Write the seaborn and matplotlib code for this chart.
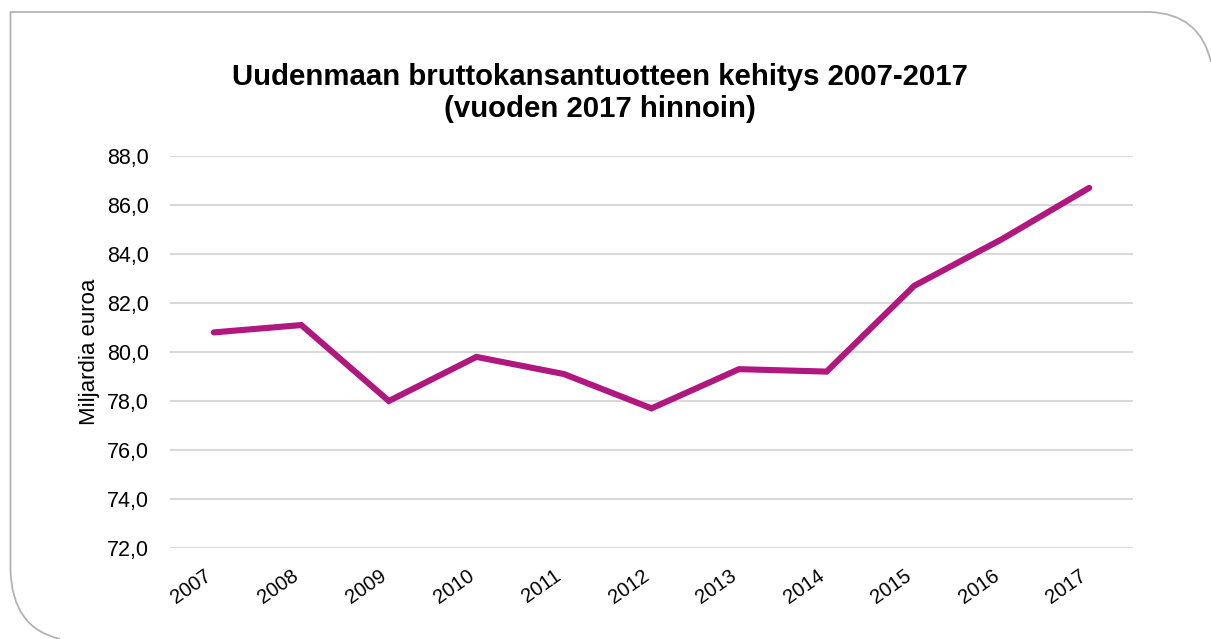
import numpy as np
import pandas as pd
import matplotlib.pyplot as plt
import matplotlib.transforms as mtransforms
import seaborn as sns
from matplotlib.path import Path
from matplotlib.patches import PathPatch
from matplotlib.ticker import FuncFormatter

years = ["2007", "2008", "2009", "2010", "2011", "2012", "2013", "2014", "2015", "2016", "2017"]
bkt = [80.8, 81.1, 78.0, 79.8, 79.1, 77.7, 79.3, 79.2, 82.7, 84.6, 86.7]
title = "Uudenmaan bruttokansantuotteen kehitys 2007-2017\n(vuoden 2017 hinnoin)"
ylabel = "Miljardia euroa"

df = pd.DataFrame({"vuosi": years, "bkt": bkt})

sns.set_theme(style="white")
plt.rcParams["font.family"] = ["Liberation Sans", "DejaVu Sans"]
plt.rcParams["text.color"] = "black"
plt.rcParams["axes.labelcolor"] = "black"

W, H = 1211, 639
fig = plt.figure(figsize=(W / 100, H / 100), dpi=100)
ax = fig.add_axes([170 / W, 1 - 548 / H, (1133 - 170) / W, (548 - 156) / H])

sns.lineplot(data=df, x="vuosi", y="bkt", ax=ax, color="#B0177F", linewidth=4.4,
             sort=False, solid_capstyle="round", solid_joinstyle="miter")

ax.set_xlim(-0.5, len(years) - 0.5)
ax.set_ylim(72, 88)
ax.set_yticks(np.arange(72, 89, 2))
ax.yaxis.set_major_formatter(FuncFormatter(lambda v, p: f"{v:.1f}".replace(".", ",")))
ax.grid(axis="y", color="#D9D9D9", linewidth=1.5)
ax.set_axisbelow(True)
for s in ax.spines.values():
    s.set_visible(False)
ax.tick_params(axis="both", length=0, colors="black")
ax.tick_params(axis="y", labelsize=15.5, pad=15)
ax.tick_params(axis="x", labelsize=14.5, pad=13)
shift = mtransforms.ScaledTranslation(-10 / 100, 0, fig.dpi_scale_trans)
for lbl in ax.get_xticklabels():
    lbl.set_rotation(35)
    lbl.set_ha("right")
    lbl.set_rotation_mode("anchor")
    lbl.set_transform(lbl.get_transform() + shift)
ax.set_xlabel("")
ax.set_ylabel(ylabel, fontsize=16, labelpad=5)

fig.text(600 / W, 1 - 93 / H, title, ha="center", va="center", fontsize=21.2,
         fontweight="bold", linespacing=1.2, color="black")

# rounded frame around the chart
pts = [(1211, 62), (1200, 14), (1150, 12), (10.5, 12), (10.5, 570), (12, 628), (60, 639)]
codes = [Path.MOVETO, Path.CURVE3, Path.CURVE3, Path.LINETO, Path.LINETO, Path.CURVE3, Path.CURVE3]
frame = Path([(x / W, 1 - y / H) for x, y in pts], codes)
fig.patches.append(PathPatch(frame, transform=fig.transFigure, fill=False,
                             edgecolor="#B3B3B3", linewidth=1.3))

fig.savefig("out.png", dpi=100)
